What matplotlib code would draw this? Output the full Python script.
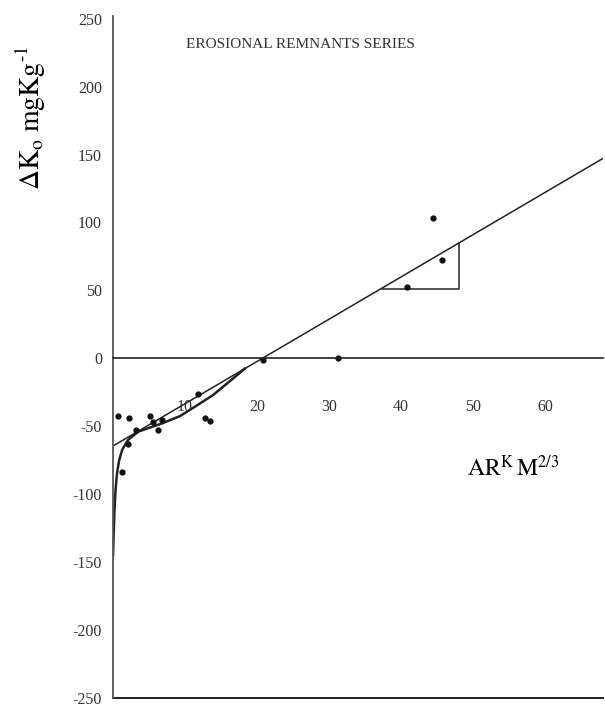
import matplotlib
matplotlib.use('Agg')
import matplotlib.pyplot as plt

plt.rcParams['font.family'] = ['Liberation Serif', 'DejaVu Serif']
plt.rcParams['mathtext.fontset'] = 'stix'

pts_x = [0.7, 2.2, 5.1, 3.2, 5.6, 6.8, 6.3, 2.1, 1.25, 11.8, 12.8, 13.5, 20.8, 31.3, 40.8, 45.7, 44.4]
pts_y = [-42.5, -44, -42.5, -52.8, -46.9, -45.5, -52.8, -63, -83.6, -26.4, -44, -46.2, -1, 0, 52.8, 72.6, 103.4]

# straight regression line
fit_x = [0, 68]
fit_y = [-64.5, 147]

# hand-drawn curve near the origin
curve_x = [0, 0.1, 0.2, 0.35, 0.55, 0.85, 1.3, 2.1, 3.5, 5.1, 6.9, 9.3, 11.7, 13.9, 16.7, 18.3]
curve_y = [-145, -128, -112, -97, -85, -75, -67, -60, -54, -51, -47.7, -42.5, -34.5, -27, -14.7, -7.6]

# slope triangle
tri_x = [37.4, 48.1, 48.1]
tri_y = [51, 51, 85]

x_ticks = [10, 20, 30, 40, 50, 60]
y_ticks = [250, 200, 150, 100, 50, 0, -50, -100, -150, -200, -250]

fig = plt.figure(figsize=(6.05, 7.09), dpi=100)
ax = fig.add_axes([0.1868, 0.0155, 0.81, 0.962])
ax.set_xlim(0, 68.06)
ax.set_ylim(-250, 252)

ink = '#222222'
ax.plot(fit_x, fit_y, color=ink, lw=1.1)
ax.plot(curve_x, curve_y, color=ink, lw=1.8)
ax.plot(tri_x, tri_y, color=ink, lw=1.1)
ax.plot(pts_x, pts_y, 'o', color='#111111', ms=3.5)
ax.plot([0, 68.06], [-250, -250], color=ink, lw=1.4, clip_on=False)

for s in ['top', 'right']:
    ax.spines[s].set_visible(False)
ax.spines['left'].set_color('#555555')
ax.spines['left'].set_linewidth(1.3)
ax.spines['bottom'].set_position(('data', 0))
ax.spines['bottom'].set_color(ink)
ax.spines['bottom'].set_linewidth(1.2)

ax.set_xticks(x_ticks)
ax.set_xticklabels([str(t) for t in x_ticks])
ax.set_yticks(y_ticks)
ax.set_yticklabels([str(t) for t in y_ticks])
ax.tick_params(axis='x', length=0, pad=29, labelsize=11.5, labelcolor='#333333')
ax.tick_params(axis='y', length=0, pad=8, labelsize=11.5, labelcolor='#333333')

fig.text(300 / 605, 1 - 45 / 709, 'EROSIONAL REMNANTS SERIES', ha='center', va='center',
         fontsize=11, color='#333333')
fig.text(31 / 605, 1 - 118 / 709, r'$\Delta\mathrm{K_o\/\/mgKg^{\text{-}1}}$', rotation=90,
         ha='center', va='center', fontsize=20)
fig.text(513 / 605, 1 - 468 / 709, r'$\mathrm{AR^K\,M^{2/3}}$', ha='center', va='center',
         fontsize=17)

fig.savefig('out.png', dpi=100, facecolor='white')
